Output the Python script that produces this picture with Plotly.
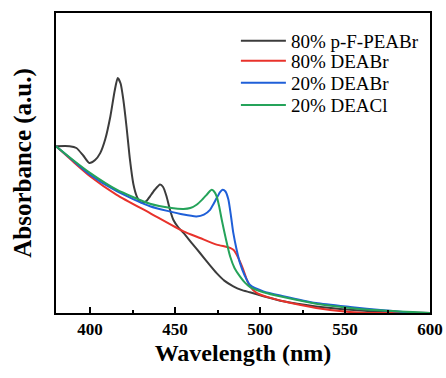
import plotly.graph_objects as go

# Wavelength (nm) / absorbance (a.u.)
wl_black = [380, 388, 392, 396, 399.6, 403, 406, 409, 412, 414.5, 416.3, 418, 419.6, 421.5, 423.5, 425.5, 427.5, 429.5, 431.4, 433.5, 435.3, 438, 441.2, 443, 445, 447, 449, 452, 455, 460, 464.7, 470, 474.5, 479, 484.3, 489, 494, 502, 513.7, 533, 553, 572.5, 600]
ab_black = [0.556, 0.556, 0.55, 0.525, 0.50, 0.51, 0.533, 0.58, 0.656, 0.74, 0.783, 0.765, 0.711, 0.62, 0.511, 0.43, 0.389, 0.37, 0.367, 0.375, 0.389, 0.41, 0.428, 0.42, 0.389, 0.345, 0.311, 0.285, 0.267, 0.232, 0.20, 0.163, 0.133, 0.108, 0.089, 0.077, 0.069, 0.056, 0.039, 0.022, 0.011, 0.004, 0.0]

wl_red = [380, 390, 400, 415.7, 435.3, 455, 464.7, 474.5, 480, 482.4, 484.5, 486.3, 488.3, 490.2, 492, 494, 498, 505, 513.7, 533, 553, 563, 600]
ab_red = [0.556, 0.505, 0.456, 0.394, 0.333, 0.272, 0.25, 0.228, 0.221, 0.217, 0.21, 0.194, 0.17, 0.144, 0.115, 0.089, 0.067, 0.052, 0.039, 0.017, 0.003, 0.0, 0.0]

wl_blue = [380, 390, 400, 415.7, 435.3, 455, 462.7, 467, 470.6, 472.5, 474.5, 476.5, 478, 479.7, 481.4, 483, 484.3, 486.3, 488.2, 491, 494, 502, 513.7, 533, 553, 572.5, 592, 600]
ab_blue = [0.556, 0.508, 0.461, 0.406, 0.356, 0.328, 0.322, 0.328, 0.344, 0.362, 0.383, 0.403, 0.411, 0.405, 0.378, 0.32, 0.267, 0.21, 0.167, 0.125, 0.094, 0.072, 0.056, 0.033, 0.02, 0.009, 0.0, 0.0]

wl_green = [380, 390, 400, 415.7, 435.3, 448, 455, 459, 462.7, 466, 468.6, 470.3, 471.6, 473, 474.5, 476, 477.5, 480, 482.4, 485, 488.2, 491, 494, 502, 513.7, 533, 553, 572.5, 600]
ab_green = [0.556, 0.51, 0.467, 0.411, 0.364, 0.35, 0.347, 0.35, 0.361, 0.378, 0.394, 0.405, 0.411, 0.405, 0.389, 0.355, 0.311, 0.245, 0.189, 0.15, 0.122, 0.102, 0.087, 0.069, 0.053, 0.031, 0.017, 0.008, 0.0]

names = ["80% p-F-PEABr", "80% DEABr", "20% DEABr", "20% DEACl"]
colors = ["#3c3c3c", "#e8322b", "#1f5fd8", "#25a35a"]

serif = "Liberation Serif"
legend_ids = ["legend", "legend2", "legend3", "legend4"]
legend_y = [0.907, 0.840, 0.767, 0.693]

fig = go.Figure()
for wl, ab, nm, c, lg in zip([wl_black, wl_red, wl_blue, wl_green],
                             [ab_black, ab_red, ab_blue, ab_green], names, colors, legend_ids):
    fig.add_trace(go.Scatter(x=wl, y=ab, mode="lines", name=nm, legend=lg,
                             line=dict(color=c, width=2, shape="spline", smoothing=0.6)))

legend_common = dict(x=0.481, xanchor="left", yanchor="middle", bgcolor="rgba(0,0,0,0)",
                     font=dict(family=serif, size=19, color="black"), itemwidth=45)
layout_legends = {lg: dict(legend_common, y=yy) for lg, yy in zip(legend_ids, legend_y)}

fig.update_layout(
    width=446, height=378,
    margin=dict(l=56, r=16, t=13, b=65),
    plot_bgcolor="white", paper_bgcolor="white",
    font=dict(family=serif, color="black"),
    showlegend=True,
    xaxis=dict(range=[380, 600], tickvals=[400, 450, 500, 550, 600], automargin=False,
               ticks="inside", ticklen=6, tickwidth=2, tickcolor="black",
               minor=dict(tickvals=[425, 475, 525, 575], ticks="inside", ticklen=3, tickwidth=2, tickcolor="black"),
               showline=True, linewidth=2, linecolor="black", mirror=True,
               showgrid=False, zeroline=False,
               tickfont=dict(family=serif, size=17, color="black", weight="bold"),
               title=dict(text="<b>Wavelength (nm)</b>", font=dict(family=serif, size=24, color="black"), standoff=6)),
    yaxis=dict(range=[0, 1.0], showticklabels=False, ticks="", automargin=False,
               showline=True, linewidth=2, linecolor="black", mirror=True,
               showgrid=False, zeroline=False,
               title=dict(text="<b>Absorbance (a.u.)</b>", font=dict(family=serif, size=25, color="black"), standoff=15)),
    **layout_legends,
)

fig.write_html("out.html")
